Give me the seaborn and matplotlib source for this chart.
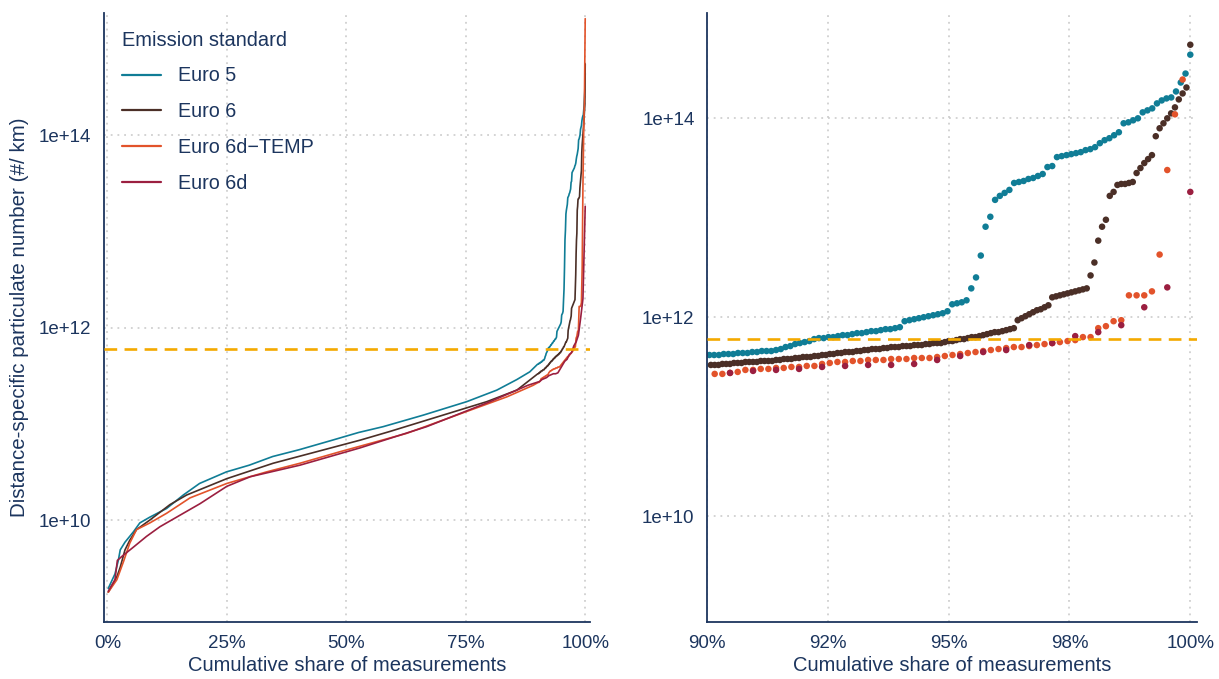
import numpy as np
import pandas as pd
import seaborn as sns
import matplotlib.pyplot as plt
from matplotlib.lines import Line2D
from matplotlib.ticker import FixedLocator, FixedFormatter

standards = ["Euro 5", "Euro 6", "Euro 6d\u2212TEMP", "Euro 6d"]
colors = ["#107d96", "#4b2f27", "#e2532b", "#9b1f40"]
navy = "#1c355e"

# number of measurements per standard (gives the share of each ranked point)
n_meas = [1015, 1260, 630, 210]

# lower part of each curve: cumulative share and log10 PN
low_share_e5 = [0.002, 0.016, 0.023, 0.027, 0.037, 0.055, 0.068, 0.089, 0.124, 0.159, 0.193, 0.249,
                0.297, 0.346, 0.401, 0.471, 0.526, 0.577, 0.661, 0.752, 0.815, 0.857, 0.884]
low_val_e5 = [9.29, 9.44, 9.58, 9.69, 9.77, 9.88, 9.97, 10.03, 10.12, 10.26, 10.38, 10.50,
              10.57, 10.66, 10.73, 10.83, 10.91, 10.97, 11.09, 11.23, 11.35, 11.46, 11.54]

low_share_e6 = [0.002, 0.020, 0.027, 0.037, 0.047, 0.061, 0.089, 0.131, 0.166, 0.250, 0.347,
                0.438, 0.529, 0.591, 0.696, 0.794, 0.857]
low_val_e6 = [9.25, 9.41, 9.51, 9.69, 9.79, 9.90, 10.00, 10.16, 10.26, 10.43, 10.59,
              10.71, 10.83, 10.92, 11.08, 11.23, 11.35]

low_share_e6dt = [0.002, 0.020, 0.034, 0.047, 0.061, 0.089, 0.124, 0.173, 0.250, 0.333, 0.403,
                  0.487, 0.626, 0.731, 0.836, 0.891]
low_val_e6dt = [9.25, 9.38, 9.57, 9.76, 9.90, 9.97, 10.07, 10.23, 10.38, 10.50, 10.59,
                10.71, 10.90, 11.09, 11.28, 11.40]

low_share_e6d = [0.002, 0.016, 0.021, 0.030, 0.055, 0.082, 0.110, 0.145, 0.194, 0.250, 0.299,
                 0.403, 0.529, 0.668, 0.801, 0.880]
low_val_e6d = [9.26, 9.38, 9.58, 9.62, 9.72, 9.83, 9.93, 10.03, 10.17, 10.35, 10.45,
               10.57, 10.75, 10.97, 11.23, 11.40]

# top 10 %: log10 PN of the highest ranked measurements (right panel points)
top_e5 = [11.62, 11.62, 11.62, 11.63, 11.63, 11.63, 11.64, 11.64, 11.64, 11.65, 11.65, 11.66,
          11.66, 11.66, 11.67, 11.68, 11.70, 11.71, 11.73, 11.74, 11.75, 11.76, 11.78, 11.79,
          11.79, 11.80, 11.80, 11.81, 11.82, 11.82, 11.83, 11.84, 11.84, 11.85, 11.86, 11.86,
          11.87, 11.88, 11.88, 11.89, 11.90, 11.96, 11.97, 11.98, 11.99, 12.00, 12.01, 12.02,
          12.03, 12.04, 12.06, 12.13, 12.14, 12.15, 12.17, 12.29, 12.40, 12.62, 12.91, 13.01,
          13.18, 13.22, 13.25, 13.28, 13.35, 13.36, 13.37, 13.39, 13.40, 13.42, 13.44, 13.51,
          13.52, 13.61, 13.62, 13.63, 13.64, 13.65, 13.66, 13.68, 13.69, 13.71, 13.75, 13.78,
          13.80, 13.83, 13.86, 13.95, 13.96, 13.98, 14.00, 14.06, 14.08, 14.10, 14.15, 14.18,
          14.20, 14.21, 14.27, 14.36, 14.45, 14.64]

top_e6 = [11.52, 11.52, 11.52, 11.53, 11.53, 11.53, 11.54, 11.54, 11.54, 11.55, 11.55, 11.55,
          11.55, 11.56, 11.56, 11.56, 11.56, 11.57, 11.57, 11.58, 11.58, 11.58, 11.59, 11.59,
          11.60, 11.60, 11.60, 11.61, 11.61, 11.62, 11.62, 11.63, 11.63, 11.64, 11.64, 11.65,
          11.65, 11.65, 11.66, 11.66, 11.67, 11.67, 11.68, 11.68, 11.68, 11.69, 11.69, 11.70,
          11.70, 11.70, 11.71, 11.71, 11.71, 11.72, 11.72, 11.72, 11.73, 11.73, 11.74, 11.74,
          11.74, 11.75, 11.76, 11.76, 11.77, 11.78, 11.78, 11.79, 11.80, 11.80, 11.81, 11.82,
          11.83, 11.84, 11.85, 11.85, 11.86, 11.87, 11.88, 11.89, 11.97, 11.99, 12.01, 12.03,
          12.05, 12.07, 12.08, 12.10, 12.12, 12.20, 12.21, 12.22, 12.23, 12.24, 12.25, 12.26,
          12.27, 12.28, 12.29, 12.42, 12.55, 12.77, 12.91, 12.98, 13.22, 13.26, 13.33, 13.34,
          13.34, 13.35, 13.36, 13.45, 13.50, 13.55, 13.59, 13.63, 13.82, 13.90, 13.95, 14.00,
          14.05, 14.11, 14.19, 14.25, 14.31, 14.74]

top_e6dt = [11.43, 11.43, 11.44, 11.45, 11.47, 11.47, 11.48, 11.48, 11.49, 11.49, 11.50, 11.50,
            11.51, 11.51, 11.53, 11.54, 11.55, 11.55, 11.56, 11.56, 11.57, 11.57, 11.57, 11.58,
            11.58, 11.58, 11.59, 11.59, 11.59, 11.60, 11.61, 11.62, 11.63, 11.64, 11.65, 11.66,
            11.67, 11.68, 11.69, 11.70, 11.70, 11.71, 11.72, 11.73, 11.74, 11.75, 11.76, 11.77,
            11.80, 11.80, 11.89, 11.91, 11.96, 11.97, 12.22, 12.22, 12.22, 12.26, 12.63, 13.48,
            14.04, 14.39, 15.21]

top_e6d = [11.44, 11.46, 11.47, 11.48, 11.50, 11.51, 11.52, 11.52, 11.53, 11.57, 11.61, 11.65,
           11.67, 11.72, 11.74, 11.81, 11.85, 11.92, 12.10, 12.30, 13.26]

pn_limit = 6e11

x_ticks_left = [0, 0.25, 0.5, 0.75, 1.0]
x_labels_left = ["0%", "25%", "50%", "75%", "100%"]
x_ticks_right = [0.9, 0.925, 0.95, 0.975, 1.0]
x_labels_right = ["90%", "92%", "95%", "98%", "100%"]
y_ticks = [1e10, 1e12, 1e14]
y_labels = ["1e+10", "1e+12", "1e+14"]


def top_frame(vals, n, label):
    vals = np.asarray(vals)
    rank = np.arange(n - len(vals) + 1, n + 1)
    return pd.DataFrame({"share": rank / n, "pn": 10 ** vals, "standard": label})


lows = [(low_share_e5, low_val_e5), (low_share_e6, low_val_e6),
        (low_share_e6dt, low_val_e6dt), (low_share_e6d, low_val_e6d)]
tops = [top_e5, top_e6, top_e6dt, top_e6d]

top_df = pd.concat([top_frame(t, n, s) for t, n, s in zip(tops, n_meas, standards)],
                   ignore_index=True)
low_df = pd.concat([pd.DataFrame({"share": sh, "pn": 10 ** np.asarray(v), "standard": s})
                    for (sh, v), s in zip(lows, standards)], ignore_index=True)
full_df = pd.concat([low_df, top_df], ignore_index=True)

sns.set_theme(style="white")
plt.rcParams["font.family"] = ["Liberation Sans", "DejaVu Sans"]
plt.rcParams["font.size"] = 14
plt.rcParams["text.color"] = navy
plt.rcParams["axes.labelcolor"] = navy
plt.rcParams["xtick.color"] = navy
plt.rcParams["ytick.color"] = navy

fig = plt.figure(figsize=(12.19, 6.79), dpi=100)
ax1 = fig.add_axes([0.0853, 0.0839, 0.3987, 0.8971])
ax2 = fig.add_axes([0.5800, 0.0839, 0.4020, 0.8971])

sns.lineplot(data=full_df, x="share", y="pn", hue="standard", hue_order=standards,
             palette=colors, estimator=None, linewidth=1.2, legend=False, ax=ax1)
sns.scatterplot(data=top_df, x="share", y="pn", hue="standard", hue_order=standards,
                palette=colors, s=22, linewidth=0, legend=False, ax=ax2)

for ax in (ax1, ax2):
    ax.set_yscale("log")
    ax.axhline(pn_limit, color="#f4a900", linewidth=1.9, dashes=(4.8, 2.8), zorder=5)
    ax.yaxis.set_major_locator(FixedLocator(y_ticks))
    ax.yaxis.set_major_formatter(FixedFormatter(y_labels))
    ax.yaxis.set_minor_locator(FixedLocator([]))
    ax.grid(True, color="#c8c8c8", linestyle=(0, (1.2, 3.2)), linewidth=1.1)
    ax.set_axisbelow(True)
    for side in ("top", "right"):
        ax.spines[side].set_visible(False)
    for side in ("left", "bottom"):
        ax.spines[side].set_color(navy)
        ax.spines[side].set_linewidth(1.3)
    ax.tick_params(length=0, pad=9, labelsize=13.5)
    ax.set_xlabel("Cumulative share of measurements", fontsize=14.5, labelpad=3)

ax1.set_xlim(-0.007, 1.01)
ax1.set_ylim(10 ** 8.94, 10 ** 15.27)
ax1.xaxis.set_major_locator(FixedLocator(x_ticks_left))
ax1.xaxis.set_major_formatter(FixedFormatter(x_labels_left))
ax1.set_ylabel("Distance-specific particulate number (#/ km)", fontsize=14.8, labelpad=7)

ax2.set_xlim(0.9, 1.0014)
ax2.set_ylim(10 ** 8.935, 10 ** 15.06)
ax2.xaxis.set_major_locator(FixedLocator(x_ticks_right))
ax2.xaxis.set_major_formatter(FixedFormatter(x_labels_right))
ax2.set_ylabel("")

handles = [Line2D([], [], color=c, linewidth=1.6) for c in colors]
leg = ax1.legend(handles, standards, title="Emission standard", loc="upper left",
                 frameon=False, fontsize=14.2, title_fontsize=14.4, handlelength=2.0,
                 handletextpad=0.85, labelspacing=0.85, borderaxespad=0.5,
                 alignment="left", labelcolor=navy)

fig.savefig("out.png", dpi=100)
